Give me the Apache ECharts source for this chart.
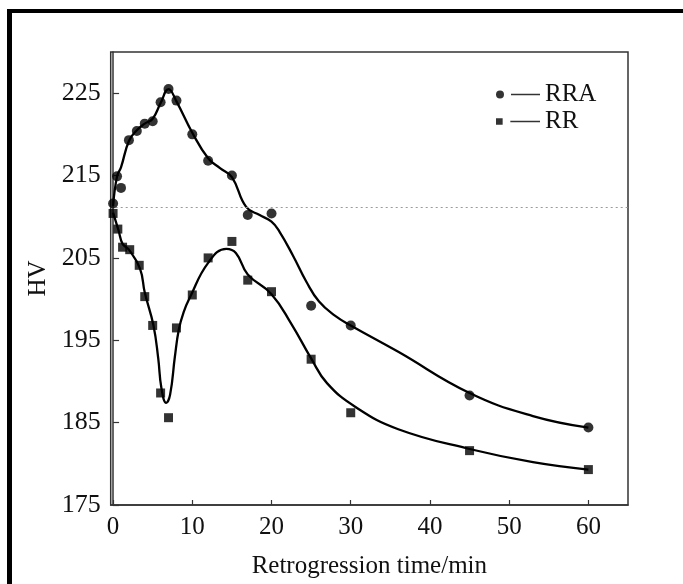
<!DOCTYPE html>
<html>
<head>
<meta charset="utf-8">
<script src="https://cdn.jsdelivr.net/npm/echarts@6/dist/echarts.min.js"></script>
<style>
  html, body { margin: 0; padding: 0; background: #fff; }
  #chart { width: 683px; height: 584px; }
</style>
</head>
<body>
<div id="chart"></div>
<script>
// Axis ticks
const xTicks = [0, 10, 20, 30, 40, 50, 60];
const yTicks = [175, 185, 195, 205, 215, 225];

// Measured hardness, RRA treatment
const rraTime = [0, 0.5, 1, 2, 3, 4, 5, 6, 7, 8, 10, 12, 15, 17, 20, 25, 30, 45, 60];
const rraHV   = [211.6, 214.9, 213.5, 219.3, 220.4, 221.3, 221.6, 223.9, 225.5, 224.1, 220.0, 216.8, 215.0, 210.2, 210.4, 199.2, 196.8, 188.3, 184.4];

// Measured hardness, RR treatment
const rrTime = [0, 0.6, 1.2, 2.1, 3.3, 4, 5, 6, 7, 8, 10, 12, 15, 17, 20, 25, 30, 45, 60];
const rrHV   = [210.4, 208.5, 206.3, 206.0, 204.1, 200.3, 196.8, 188.6, 185.6, 196.5, 200.5, 205.0, 207.0, 202.3, 200.9, 192.7, 186.2, 181.6, 179.3];

// Fitted trend curves
const rraFitTime = [0, 0.5, 1, 2, 3, 4, 5, 6, 7, 8, 10, 12, 13.5, 15, 16.8, 18.5, 20, 21, 22.7, 24.4, 26, 28, 30, 36, 45, 53, 60];
const rraFitHV   = [211.3, 214.9, 216.0, 219.2, 220.5, 221.3, 221.9, 223.8, 225.5, 224.0, 220.2, 217.1, 215.9, 214.8, 211.2, 210.2, 209.4, 208.2, 205.3, 202.1, 199.7, 198.0, 196.8, 193.6, 188.6, 185.8, 184.4];
const rrFitTime = [0, 0.7, 1.2, 2, 3.4, 4, 5.1, 5.7, 6.1, 6.7, 7.2, 7.8, 8.3, 8.9, 9.7, 12, 14.3, 15.5, 17, 20, 22.5, 25, 27, 30.6, 36, 45, 53, 60];
const rrFitHV   = [210.5, 208.3, 206.7, 206.0, 203.7, 200.8, 196.8, 192.8, 189.2, 187.4, 188.4, 193.0, 196.3, 198.4, 200.2, 204.4, 206.1, 205.6, 203.0, 200.6, 197.0, 192.8, 189.8, 186.9, 184.2, 181.8, 180.2, 179.3];

// Reference hardness level (dotted line)
const refHV = 211.1;

const pairs = (xs, ys) => xs.map((x, i) => [x, ys[i]]);

const FONT = '"Liberation Serif", "Times New Roman", serif';
const INK = '#111';

const chart = echarts.init(document.getElementById('chart'), null, { renderer: 'canvas' });

chart.setOption({
  backgroundColor: '#fff',
  animation: false,
  grid: {
    left: 110.7, right: 55, top: 52, bottom: 76,
    show: true, borderColor: '#333', borderWidth: 1.5, backgroundColor: 'transparent'
  },
  graphic: [
    { type: 'rect', shape: { x: 7, y: 9, width: 5, height: 580 }, style: { fill: '#000' }, silent: true },
    { type: 'rect', shape: { x: 7, y: 9, width: 680, height: 4 }, style: { fill: '#000' }, silent: true }
  ],
  legend: {
    orient: 'vertical',
    left: 491, top: 77,
    itemWidth: 44, itemHeight: 8, itemGap: 2,
    textStyle: { fontFamily: FONT, fontSize: 25, color: INK },
    data: [
      { name: 'RRA', icon: 'path://M0,4A4,4,0,1,1,8,4A4,4,0,1,1,0,4ZM15,3.2L44,3.2L44,4.8L15,4.8Z' },
      { name: 'RR',  icon: 'path://M1,0.8L7.5,0.8L7.5,7.3L1,7.3ZM15,3.2L44,3.2L44,4.8L15,4.8Z' }
    ],
    selectedMode: false
  },
  xAxis: {
    type: 'value', min: -0.3, max: 65,
    name: 'Retrogression time/min', nameLocation: 'middle', nameGap: 49,
    nameTextStyle: { fontFamily: FONT, fontSize: 25, color: INK },
    axisLine: { show: true, lineStyle: { color: '#333', width: 1.5 } },
    axisTick: { show: true, inside: true, length: 5, customValues: xTicks, lineStyle: { color: '#333', width: 1.2 } },
    axisLabel: { customValues: xTicks, margin: 10, fontFamily: FONT, fontSize: 25, color: INK },
    splitLine: { show: false }
  },
  yAxis: {
    type: 'value', min: 175, max: 230,
    name: 'HV', nameLocation: 'middle', nameGap: 54, nameRotate: 90,
    nameTextStyle: { fontFamily: FONT, fontSize: 25, color: INK },
    axisLine: { show: true, lineStyle: { color: '#333', width: 1.5 } },
    axisTick: { show: true, inside: true, length: 6, customValues: yTicks, lineStyle: { color: '#333', width: 1.2 } },
    axisLabel: { customValues: yTicks, margin: 10, fontFamily: FONT, fontSize: 26, color: INK },
    splitLine: { show: false }
  },
  series: [
    {
      name: 'RRA', type: 'scatter', data: pairs(rraTime, rraHV),
      symbol: 'circle', symbolSize: 10, itemStyle: { color: '#000' }, z: 5
    },
    {
      name: 'RR', type: 'scatter', data: pairs(rrTime, rrHV),
      symbol: 'rect', symbolSize: 9, itemStyle: { color: '#000' }, z: 5
    },
    {
      name: 'RRA', type: 'line', data: pairs(rraFitTime, rraFitHV),
      smooth: 0.45, showSymbol: false, lineStyle: { color: '#000', width: 2.3 }, itemStyle: { color: '#000' },
      markLine: {
        silent: true, symbol: 'none', label: { show: false },
        lineStyle: { color: '#9a9a9a', type: [2, 3], width: 1 },
        data: [{ yAxis: refHV }]
      }
    },
    {
      name: 'RR', type: 'line', data: pairs(rrFitTime, rrFitHV),
      smooth: 0.45, showSymbol: false, lineStyle: { color: '#000', width: 2.3 }, itemStyle: { color: '#000' }
    }
  ]
});
</script>
</body>
</html>
